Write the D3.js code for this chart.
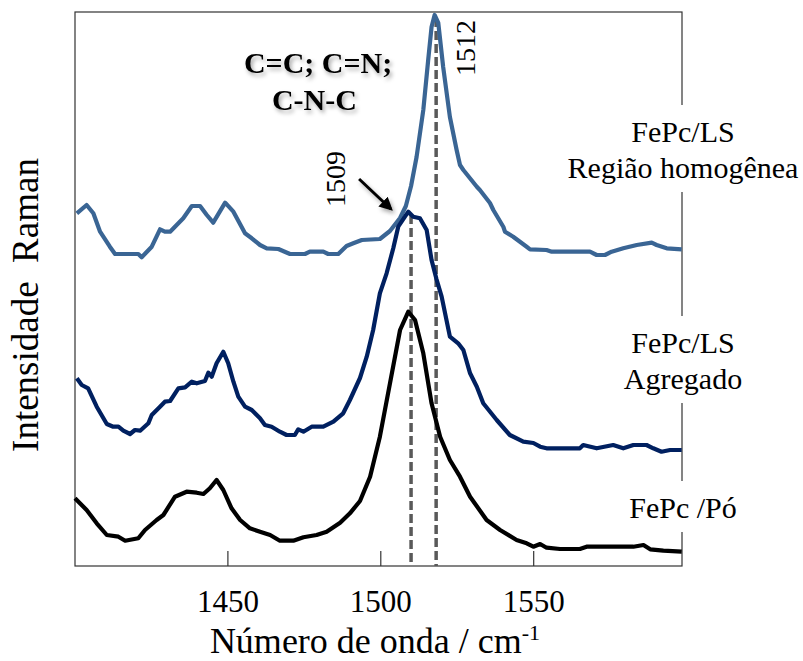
<!DOCTYPE html>
<html>
<head>
<meta charset="utf-8">
<script src="https://cdn.jsdelivr.net/npm/d3@7"></script>
<style>
  body { margin: 0; background: #fff; }
</style>
</head>
<body>
<div id="chart"></div>
<script>
// wavenumber (cm-1) / intensity (a.u.)
var waveLS = [1400.6,1403.8,1406.0,1408.2,1411.4,1413.1,1420.7,1421.8,1425.1,1427.8,1429.4,1431.1,1435.4,1438.2,1440.9,1443.1,1445.2,1449.1,1451.8,1455.6,1457.8,1460.5,1462.7,1466.5,1470.3,1475.2,1476.8,1481.2,1482.8,1486.1,1488.8,1491.0,1493.8,1499.7,1503.0,1506.3,1508.2,1509.9,1511.7,1513.9,1515.5,1516.6,1517.6,1518.8,1520.4,1522.6,1524.8,1525.9,1527.0,1531.4,1532.4,1535.7,1536.8,1540.1,1540.6,1543.3,1547.7,1548.8,1554.2,1555.9,1568.4,1570.6,1573.3,1575.5,1579.3,1583.7,1588.6,1590.2,1593.5,1598.4];
var intLS = [352.7,361,352.7,334.3,319.3,312,312,308.7,319.3,336.7,334.3,334.3,347.7,360,360,351,343.3,363.3,354.3,332.7,327.7,321,317.7,317,312,312,314.3,314.3,312,312,320,322.7,326,327,335,348,360,380,409,456,506,539,551,543,499,449,416,401,396,379.3,376,363,356,339,334.3,329.3,319.3,316.7,316,314.3,314.3,311,311,314.3,317.7,321,323.3,321,317.7,316.7];

var waveAgr = [1400.6,1402.2,1404.3,1407.1,1410.4,1412.5,1414.2,1415.8,1418.0,1419.6,1421.3,1424.0,1425.1,1427.8,1429.4,1431.1,1433.8,1436.0,1438.2,1439.8,1442.5,1443.6,1444.7,1446.3,1448.5,1450.1,1451.8,1453.4,1455.6,1457.8,1460.5,1462.1,1464.3,1467.0,1469.2,1471.9,1473.0,1474.7,1477.4,1481.2,1484.5,1487.7,1489.9,1493.2,1495.4,1497.5,1499.7,1500.8,1501.9,1504.1,1505.7,1507.9,1509.0,1510.6,1512.8,1515.0,1516.6,1518.2,1519.9,1522.6,1525.3,1527.0,1529.2,1531.4,1533.5,1537.9,1542.2,1546.6,1549.9,1552.1,1554.2,1557.5,1565.1,1566.2,1570.6,1576.0,1579.3,1582.6,1586.9,1589.1,1591.8,1594.6,1598.4];
var intAgr = [187.7,181,177.7,159.3,142,139.3,139.3,135.3,132,136,135.3,142.7,151,159.3,164.3,165,177.7,178.7,184.3,182.7,185,193.3,189.3,202.7,214.3,202.7,184.3,169.3,159.3,156,147.7,141,139.3,134.3,131,131,136.7,134.3,139.3,139.3,144.3,152.7,166,188,209.3,236,272.7,282.7,292.7,318,339.3,349.3,354.3,349.3,347.7,336,306,287,269.3,229.3,222.7,216,192.7,179.3,162.7,146,131,124.3,123,119.3,117.7,117.7,117.7,121,117.7,121,117.7,121,121,117.7,114.3,116,116];

var wavePo = [1400.0,1403.8,1407.1,1410.4,1414.2,1416.4,1420.7,1422.9,1426.7,1428.9,1432.7,1436.5,1439.8,1442.0,1444.1,1446.3,1448.5,1451.2,1454.0,1457.2,1460.5,1463.8,1467.0,1471.4,1474.7,1479.0,1482.3,1486.7,1489.9,1493.2,1496.5,1499.7,1503.0,1506.3,1509.0,1511.2,1513.9,1516.6,1519.4,1522.6,1525.9,1529.2,1534.6,1539.0,1544.4,1547.7,1549.9,1552.1,1554.2,1558.6,1565.1,1567.3,1582.6,1585.9,1588.1,1592.4,1598.4];
var intPo = [67.7,56,42.7,31,29.3,25.3,27.7,36,46,51,69.3,74.3,73.3,72,77.7,86,76,57.7,46,37.7,34.3,31,25.3,25.3,28.7,31,34.3,43.3,52.7,65,89.3,129.3,182.7,236,254.3,246,212.7,162.7,129.3,106,89.3,69.3,46,36,26,22.7,19.3,22,18.3,17,17,19.3,19.3,21,16.7,15.3,14.3];

var seriesNames = [["FePc/LS", "Região homogênea"], ["FePc/LS", "Agregado"], ["FePc /Pó"]];
var seriesColors = ["#3a6594", "#002060", "#000000"];
var xTicks = [1450, 1500, 1550];
var peakPos = [1509.9, 1518.1];      // dashed marker positions
var peakTop = [351, 548];
var peakLabels = ["1509", "1512"];

var serif = "'Liberation Serif', 'Times New Roman', 'DejaVu Serif', serif";
var width = 803, height = 661;
var margin = {left: 75, top: 12, right: 121, bottom: 95};

var svg = d3.select("#chart").append("svg")
  .attr("width", width)
  .attr("height", height)
  .attr("font-family", serif)
  .style("font-family", serif);

var x = d3.scaleLinear().domain([1400, 1598.5]).range([margin.left, width - margin.right]);
var y = d3.scaleLinear().domain([0, 554]).range([height - margin.bottom, margin.top]);

var defs = svg.append("defs");
var shadow = defs.append("filter").attr("id", "shadow")
  .attr("x", "-20%").attr("y", "-20%").attr("width", "140%").attr("height", "160%");
shadow.append("feDropShadow").attr("dx", 2).attr("dy", 3).attr("stdDeviation", 2)
  .attr("flood-color", "#000").attr("flood-opacity", 0.35);
defs.append("marker").attr("id", "arrow")
  .attr("viewBox", "0 0 10 10").attr("refX", 8).attr("refY", 5)
  .attr("markerWidth", 4.5).attr("markerHeight", 4.5).attr("orient", "auto")
  .append("path").attr("d", "M0,0 L10,5 L0,10 z").attr("fill", "#000");

/* frame */
svg.append("rect")
  .attr("x", x.range()[0]).attr("y", y.range()[1])
  .attr("width", x.range()[1] - x.range()[0])
  .attr("height", y.range()[0] - y.range()[1])
  .attr("fill", "none").attr("stroke", "#333").attr("stroke-width", 1.2);

/* x axis: inner ticks */
svg.append("g")
  .selectAll("line").data(xTicks).enter().append("line")
  .attr("x1", d => x(d)).attr("x2", d => x(d))
  .attr("y1", y(0)).attr("y2", y(0) - 15)
  .attr("stroke", "#333").attr("stroke-width", 1.2);

svg.append("g")
  .selectAll("text").data(xTicks).enter().append("text")
  .attr("x", d => x(d)).attr("y", 612)
  .attr("text-anchor", "middle")
  .style("font-size", "31px")
  .text(d => d);

/* dashed peak markers */
svg.append("g")
  .selectAll("line").data(peakPos).enter().append("line")
  .attr("x1", d => x(d)).attr("x2", d => x(d))
  .attr("y1", (d, i) => y(peakTop[i])).attr("y2", y(0))
  .attr("stroke", "#595959").attr("stroke-width", 3.5)
  .attr("stroke-dasharray", "9,4");

/* spectra */
var line = d3.line()
  .x(d => x(d[0]))
  .y(d => y(d[1]));

var spectra = [d3.zip(waveLS, intLS), d3.zip(waveAgr, intAgr), d3.zip(wavePo, intPo)];

svg.append("g").selectAll("path")
  .data(spectra).enter().append("path")
  .attr("d", line)
  .attr("fill", "none")
  .attr("stroke", (d, i) => seriesColors[i])
  .attr("stroke-width", 4.2)
  .attr("stroke-linejoin", "round");

/* series labels on the right edge, with white boxes over the frame */
var labelY = [142, 353, 518];
seriesNames.forEach(function (lines, i) {
  var g = svg.append("g");
  var rect = g.append("rect").attr("fill", "#fff");
  var t = g.append("text")
    .attr("text-anchor", "middle")
    .style("font-size", "30px");
  lines.forEach(function (s, j) {
    t.append("tspan").attr("x", 683).attr("y", labelY[i] + j * 36).text(s);
  });
  var b = t.node().getBBox();
  rect.attr("x", b.x - 6).attr("y", b.y - 10)
    .attr("width", b.width + 12).attr("height", b.height + 18);
});

/* band annotation */
var ann = svg.append("text")
  .attr("text-anchor", "middle")
  .attr("filter", "url(#shadow)")
  .style("font-size", "30px").style("font-weight", "bold");
ann.append("tspan").attr("x", x(1479.5)).attr("y", y(493)).text("C=C; C=N;");
ann.append("tspan").attr("x", x(1478.3)).attr("y", y(456)).text("C-N-C");

/* peak labels (rotated) */
var peakLabelPos = [[1488.3, 387], [1530.8, 518]];
svg.append("g").selectAll("text")
  .data(peakLabels).enter().append("text")
  .attr("transform", (d, i) => "translate(" + x(peakLabelPos[i][0]) + "," + y(peakLabelPos[i][1]) + ") rotate(-90)")
  .attr("text-anchor", "middle")
  .style("font-size", "28px")
  .text(d => d);

/* arrow to 1509 */
svg.append("line")
  .attr("x1", x(1492.9)).attr("y1", y(387))
  .attr("x2", x(1503.3)).attr("y2", y(357))
  .attr("stroke", "#000").attr("stroke-width", 3)
  .attr("marker-end", "url(#arrow)")
  .attr("filter", "url(#shadow)");

/* axis titles */
var xt = svg.append("text")
  .attr("x", 375).attr("y", 653)
  .attr("text-anchor", "middle")
  .style("font-size", "36px");
xt.append("tspan").text("Número de onda / cm");
xt.append("tspan").attr("dy", -13).style("font-size", "22px").text("-1");

svg.append("text")
  .attr("transform", "translate(38," + 305 + ") rotate(-90)")
  .attr("text-anchor", "middle")
  .style("font-size", "37px")
  .style("white-space", "pre")
  .attr("xml:space", "preserve")
  .text("Intensidade  Raman");
</script>
</body>
</html>
